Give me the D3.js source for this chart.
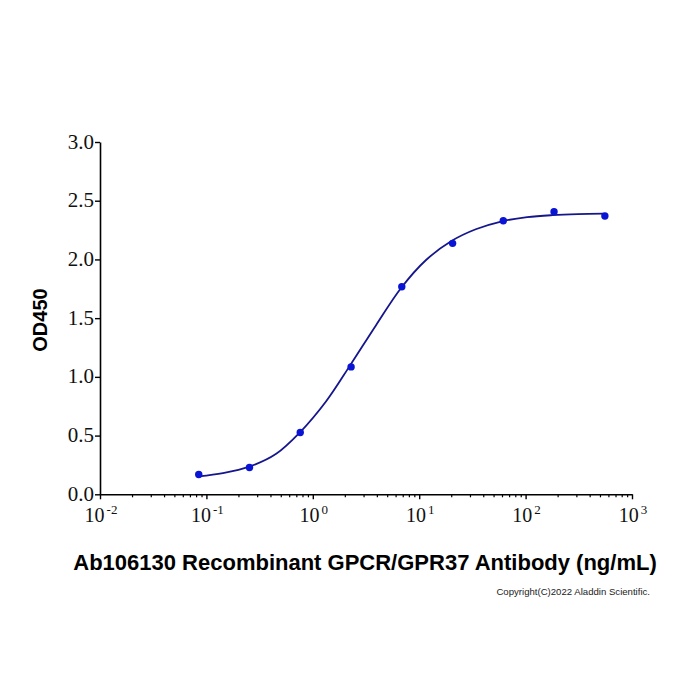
<!DOCTYPE html>
<html>
<head>
<meta charset="utf-8">
<script src="https://cdn.jsdelivr.net/npm/d3@7"></script>
<style>
  body { margin: 0; background: #fff; }
</style>
</head>
<body>
<svg id="chart" width="700" height="700"></svg>
<script>
// measured points: 3-fold dilution series (ng/mL) and OD450
const concentrations = [0.0847, 0.254, 0.762, 2.29, 6.86, 20.6, 61.7, 185, 556];
const odValues = [0.168, 0.228, 0.526, 1.085, 1.767, 2.137, 2.33, 2.407, 2.37];

// fitted curve
const curveConc = [0.0847, 0.143, 0.253, 0.453, 0.762, 1.33, 2.25, 3.93, 6.73, 11.6, 20.1, 34.0, 60.0, 103.5, 179, 310, 538];
const curveOD = [0.152, 0.18, 0.235, 0.345, 0.53, 0.79, 1.1, 1.44, 1.755, 1.995, 2.157, 2.257, 2.325, 2.36, 2.377, 2.386, 2.39];

const yTicks = [0, 0.5, 1.0, 1.5, 2.0, 2.5, 3.0];
const xExponents = [-2, -1, 0, 1, 2, 3];

const xTitle = "Ab106130 Recombinant GPCR/GPR37 Antibody (ng/mL)";
const yTitle = "OD450";
const copyright = "Copyright(C)2022 Aladdin Scientific.";

const svg = d3.select("#chart");
const serif = "Liberation Serif, DejaVu Serif, serif";
const sans = "Liberation Sans, Arial, sans-serif";

const x = d3.scaleLog().domain([0.01, 1000]).range([100, 632]);
const y = d3.scaleLinear().domain([0, 3]).range([494.3, 142]);

//minor ticks 2..9 per decade
let minorTicks = [];
for (let e = -2; e < 3; e++){
    for (let m = 2; m <= 9; m++) minorTicks.push(m * Math.pow(10, e));
}

//x axis: minor ticks first, then majors on top
svg.append("g")
    .attr("transform", `translate(0,${y(0)})`)
    .call(d3.axisBottom(x).tickValues(minorTicks).tickSize(3).tickSizeOuter(0).tickFormat(""))
    .call(g => g.select(".domain").remove())
    .call(g => g.selectAll("line").attr("stroke-width", 1.2));

let xAxis = svg.append("g")
    .attr("transform", `translate(0,${y(0)})`)
    .call(d3.axisBottom(x).tickValues(xExponents.map(e => Math.pow(10, e))).tickSize(5).tickSizeOuter(0).tickFormat(""));
xAxis.select(".domain").attr("stroke-width", 1.6);
xAxis.selectAll("line").attr("stroke-width", 1.4);

//y axis
let yAxis = svg.append("g")
    .attr("transform", `translate(${x(0.01)},0)`)
    .call(d3.axisLeft(y).tickValues(yTicks).tickSize(5).tickSizeOuter(0).tickFormat(""));
yAxis.select(".domain").attr("stroke-width", 1.6);
yAxis.selectAll("line").attr("stroke-width", 1.4);

//y tick labels
svg.append("g").selectAll("text").data(yTicks).join("text")
    .attr("x", 94)
    .attr("y", d => y(d) + 6.5)
    .attr("text-anchor", "end")
    .attr("font-family", serif)
    .attr("font-size", 21)
    .attr("fill", "#111")
    .text(d => d.toFixed(1));

//x tick labels with superscript exponent
let xl = svg.append("g").selectAll("text").data(xExponents).join("text")
    .attr("x", d => x(Math.pow(10, d)) + 1)
    .attr("y", 522)
    .attr("text-anchor", "middle")
    .attr("font-family", serif)
    .attr("font-size", 20)
    .attr("fill", "#111");
xl.append("tspan").text("10");
xl.append("tspan")
    .attr("dx", 2)
    .attr("dy", -8)
    .attr("font-size", 13)
    .text(d => d < 0 ? "-" + Math.abs(d) : String(d));

//fitted curve
svg.append("path")
    .datum(curveConc.map((c, i) => [c, curveOD[i]]))
    .attr("fill", "none")
    .attr("stroke", "#16168c")
    .attr("stroke-width", 1.8)
    .attr("d", d3.line().x(d => x(d[0])).y(d => y(d[1])).curve(d3.curveCatmullRom.alpha(0.5)));

//data points
svg.append("g").selectAll("circle").data(concentrations).join("circle")
    .attr("cx", d => x(d))
    .attr("cy", (d, i) => y(odValues[i]))
    .attr("r", 3.7)
    .attr("fill", "#0a14d4");

//titles
svg.append("text")
    .attr("x", 365)
    .attr("y", 570)
    .attr("text-anchor", "middle")
    .attr("font-family", sans)
    .attr("font-weight", "bold")
    .attr("font-size", 22)
    .text(xTitle);

svg.append("text")
    .attr("transform", "translate(47,320) rotate(-90)")
    .attr("text-anchor", "middle")
    .attr("font-family", sans)
    .attr("font-weight", "bold")
    .attr("font-size", 20)
    .text(yTitle);

svg.append("text")
    .attr("x", 650)
    .attr("y", 595)
    .attr("text-anchor", "end")
    .attr("font-family", sans)
    .attr("font-size", 9.6)
    .attr("fill", "#222")
    .text(copyright);
</script>
</body>
</html>
